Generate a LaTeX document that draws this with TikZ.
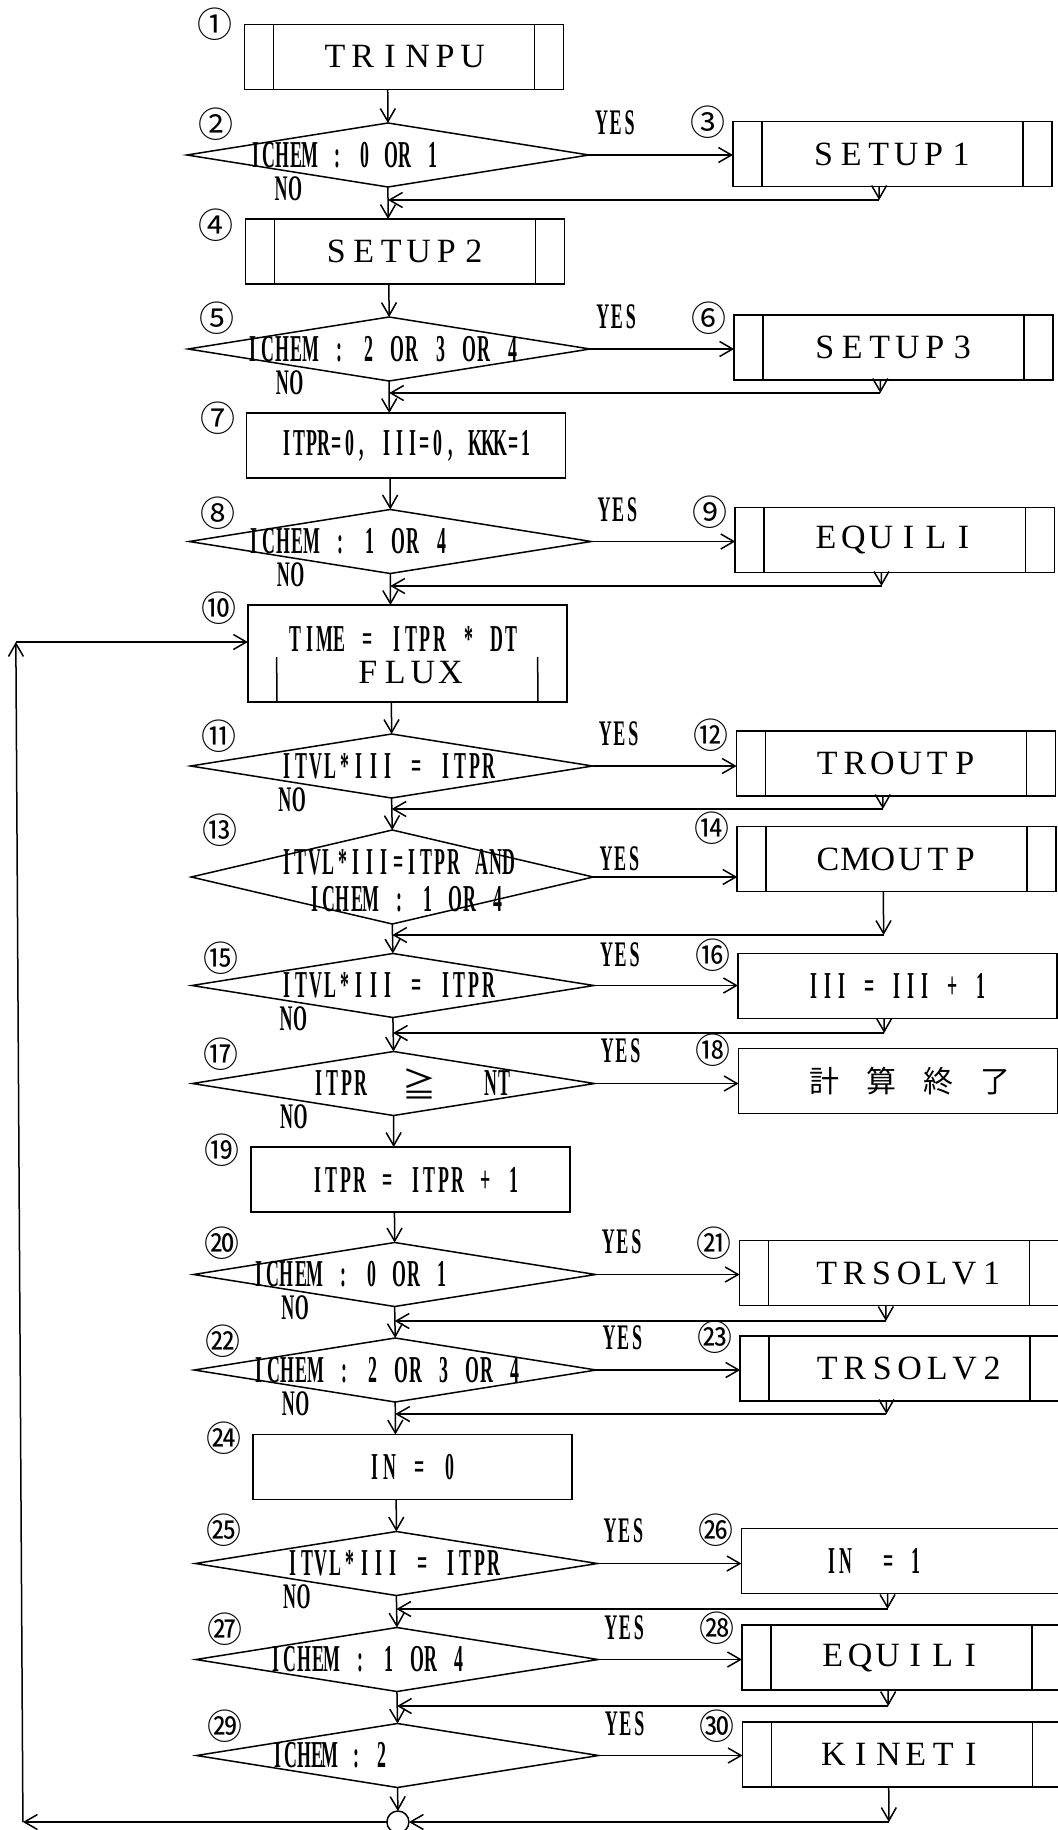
\documentclass[tikz,border=0pt]{standalone}
\usepackage{fontspec}
\usepackage{graphicx}
\setmainfont{Liberation Serif}
\newfontfamily\cjk{Noto Sans CJK JP}
\usetikzlibrary{arrows.meta,shapes.geometric}
\ExplSyntaxOn
\NewDocumentCommand\cells{mmm}
  { \str_map_inline:nn {#3} { \makebox[#1][c]{\scalebox{#2}[1]{##1}} } }
\ExplSyntaxOff
\newcommand\lab[1]{{\fontsize{34}{34}\selectfont\cells{27.5pt}{1}{#1}}}
\newcommand\ct[2][14pt]{{\fontsize{38}{38}\selectfont\bfseries\cells{#1}{0.47}{#2}}}
\newcommand\yn[1]{{\fontsize{36}{36}\selectfont\bfseries\cells{14pt}{0.5}{#1}}}
\begin{document}
\begin{tikzpicture}[x=1pt,y=-1pt,line width=1.5pt,
 arr/.style={-{Straight Barb[length=13pt,width=15pt]}},
 box/.style={draw,rectangle,minimum width=319pt,minimum height=65pt,inner sep=0pt,outer sep=0pt},
 pbox/.style={box,path picture={\draw[line width=1.5pt]
   ([xshift=29pt]path picture bounding box.north west) -- ([xshift=29pt]path picture bounding box.south west)
   ([xshift=-29pt]path picture bounding box.north east) -- ([xshift=-29pt]path picture bounding box.south east);}},
 dia/.style={draw,diamond,minimum width=402pt,minimum height=64pt,inner sep=0pt,outer sep=0pt},
 txt/.style={inner sep=0pt,outer sep=0pt},
 num/.style={inner sep=0pt,outer sep=0pt,font=\cjk\fontsize{35}{35}\selectfont}]
\useasboundingbox (0,0) rectangle (1057,1830);
\begin{scope}[xslant=-0.006]
% ---- row 1-3
\node[pbox] (b1) at (403.5,57) {\lab{TRINPU}};
\node[num] (n1) at (215,24) {①};
\node[dia] (d2) at (387,155) {};
\node[txt,anchor=west] (t2) at (248,155) {\ct[13.6pt]{ICHEM : 0 OR 1}};
\node[num] (n2) at (215,124) {②};
\node[txt] (y2) at (615,123) {\yn{YES}};
\node[txt] (o2) at (287,189) {\yn{NO}};
\node[pbox] (b3) at (891.5,154) {\lab{SETUP1}};
\node[num] (n3) at (707,122) {③};
\coordinate (m2) at (878,200);
% ---- row 4-6
\node[pbox] (b4) at (403.5,251.5) {\lab{SETUP2}};
\node[num] (n4) at (215,225) {④};
\node[dia] (d5) at (387,349) {};
\node[txt,anchor=west] (t5) at (244,349) {\ct[14.4pt]{ICHEM : 2 OR 3 OR 4}};
\node[num] (n5) at (215,318) {⑤};
\node[txt] (y5) at (615,317) {\yn{YES}};
\node[txt] (o5) at (287,383) {\yn{NO}};
\node[pbox] (b6) at (891.5,347.5) {\lab{SETUP3}};
\node[num] (n6) at (707,318) {⑥};
\coordinate (m5) at (878,393);
% ---- row 7-9
\node[box] (b7) at (403.5,445.5) {\ct[12.6pt]{ITPR=0, III=0, KKK=1}};
\node[num] (n7) at (215,418) {⑦};
\node[dia] (d8) at (387,541.5) {};
\node[txt,anchor=west] (t8) at (244,541.5) {\ct[14.4pt]{ICHEM : 1 OR 4}};
\node[num] (n8) at (215,513) {⑧};
\node[txt] (y8) at (615,510) {\yn{YES}};
\node[txt] (o8) at (287,575) {\yn{NO}};
\node[pbox] (b9) at (891.5,540) {\lab{EQUILI}};
\node[num] (n9) at (707,512) {⑨};
\coordinate (m8) at (878,586);
% ---- row 10
\node[box,minimum height=97pt] (b10) at (403.5,653.5) {};
\node[txt] (t10a) at (400,639) {\ct[14.4pt]{TIME = ITPR * DT}};
\node[txt] (t10b) at (405,673) {\lab{FLUX}};
\draw ([xshift=29pt]b10.south west) -- ([xshift=29pt,yshift=45pt]b10.south west);
\draw ([xshift=-29pt]b10.south east) -- ([xshift=-29pt,yshift=45pt]b10.south east);
\node[num] (n10) at (215,608) {⑩};
% ---- row 11-12
\node[dia] (d11) at (387,766) {};
\node[txt] (t11) at (383.5,766) {\ct[14.4pt]{ITVL*III = ITPR}};
\node[num] (n11) at (215,736) {⑪};
\node[txt] (y11) at (615,734) {\yn{YES}};
\node[txt] (o11) at (287,800) {\yn{NO}};
\node[pbox] (b12) at (891.5,763.5) {\lab{TROUTP}};
\node[num] (n12) at (707,735) {⑫};
\coordinate (m11) at (878,809);
% ---- row 13-14
\node[dia,minimum height=94pt] (d13) at (387,877) {};
\node[txt] (t13a) at (393,862) {\ct[13.9pt]{ITVL*III=ITPR AND}};
\node[txt] (t13b) at (401,899) {\ct[14.1pt]{ICHEM : 1 OR 4}};
\node[num] (n13) at (215,830) {⑬};
\node[txt] (y13) at (615,859) {\yn{YES}};
\node[pbox] (b14) at (891.5,859) {\lab{CMOUTP}};
\node[num] (n14) at (707,828) {⑭};
\coordinate (m13) at (878,935);
% ---- row 15-16
\node[dia] (d15) at (387,985.5) {};
\node[txt] (t15) at (382,985.5) {\ct[14.4pt]{ITVL*III = ITPR}};
\node[num] (n15) at (215,958) {⑮};
\node[txt] (y15) at (615,955) {\yn{YES}};
\node[txt] (o15) at (287,1019) {\yn{NO}};
\node[box] (b16) at (891.5,986) {\ct[13.9pt]{III = III + 1}};
\node[num] (n16) at (707,955) {⑯};
\coordinate (m15) at (878,1033);
% ---- row 17-18
\node[dia] (d17) at (387,1083.5) {};
\node[txt] (t17a) at (333,1083.5) {\ct{ITPR}};
\node[txt,font=\cjk\fontsize{34}{34}\selectfont] (t17b) at (413,1083.5) {≧};
\node[txt] (t17c) at (491,1083.5) {\ct{NT}};
\node[num] (n17) at (215,1054) {⑰};
\node[txt] (y17) at (615,1051) {\yn{YES}};
\node[txt] (o17) at (287,1117) {\yn{NO}};
\node[box] (b18) at (891.5,1081) {\hspace*{24pt}{\cjk\fontsize{30}{30}\selectfont\cells{57pt}{1}{計算終了}}};
\node[num] (n18) at (707,1050) {⑱};
% ---- row 19
\node[box] (b19) at (403.5,1179.5) {\hspace*{10pt}\ct{ITPR = ITPR + 1}};
\node[num] (n19) at (215,1150) {⑲};
% ---- row 20-21
\node[dia] (d20) at (387,1274.5) {};
\node[txt,anchor=west] (t20) at (244,1274.5) {\ct[14.1pt]{ICHEM : 0 OR 1}};
\node[num] (n20) at (215,1243) {⑳};
\node[txt] (y20) at (615,1242) {\yn{YES}};
\node[txt] (o20) at (287,1308) {\yn{NO}};
\node[pbox] (b21) at (891.5,1273) {\hspace*{20pt}\lab{TRSOLV1}};
\node[num] (n21) at (707,1243) {㉑};
\coordinate (m20) at (878,1321);
% ---- row 22-23
\node[dia] (d22) at (387,1370) {};
\node[txt,anchor=west] (t22) at (244,1370) {\ct[14.2pt]{ICHEM : 2 OR 3 OR 4}};
\node[num] (n22) at (215,1341) {㉒};
\node[txt] (y22) at (615,1338) {\yn{YES}};
\node[txt] (o22) at (287,1404) {\yn{NO}};
\node[pbox] (b23) at (891.5,1368.5) {\hspace*{20pt}\lab{TRSOLV2}};
\node[num] (n23) at (707,1337) {㉓};
\coordinate (m22) at (878,1414);
% ---- row 24
\node[box] (b24) at (403.5,1467) {\ct[15pt]{IN = 0}};
\node[num] (n24) at (215,1438) {㉔};
% ---- row 25-26
\node[dia] (d25) at (387,1563.5) {};
\node[txt] (t25) at (384,1563.5) {\ct[14.4pt]{ITVL*III = ITPR}};
\node[num] (n25) at (215,1530) {㉕};
\node[txt] (y25) at (615,1531) {\yn{YES}};
\node[txt] (o25) at (287,1597) {\yn{NO}};
\node[box] (b26) at (891.5,1561) {\ct{IN }\ct{ = 1}\hspace*{53pt}};
\node[num] (n26) at (707,1530) {㉖};
\coordinate (m25) at (878,1609);
% ---- row 27-28
\node[dia] (d27) at (387,1659.5) {};
\node[txt,anchor=west] (t27) at (259,1659.5) {\ct[14.1pt]{ICHEM : 1 OR 4}};
\node[num] (n27) at (215,1629) {㉗};
\node[txt] (y27) at (615,1628) {\yn{YES}};
\node[pbox] (b28) at (891.5,1657.5) {\lab{EQUILI}};
\node[num] (n28) at (707,1628) {㉘};
\coordinate (m27) at (878,1706);
% ---- row 29-30
\node[dia] (d29) at (387,1755.5) {};
\node[txt,anchor=west] (t29) at (261,1755.5) {\ct[13pt]{ICHEM : 2}};
\node[num] (n29) at (215,1726) {㉙};
\node[txt] (y29) at (615,1724) {\yn{YES}};
\node[pbox] (b30) at (891.5,1754.5) {\lab{KINETI}};
\node[num] (n30) at (707,1726) {㉚};
\node[draw,circle,minimum size=22pt,inner sep=0pt,outer sep=0pt] (jn) at (387,1822) {};
\coordinate (m29) at (878,1822);
\coordinate (lp1) at (12,1822);
\coordinate (lp2) at (12,642);
% ---- main column
\draw[arr] (b1.south -| d2.north) -- (d2.north);
\draw[arr] (d2.south) -- (d2.south |- b4.north);
\draw[arr] (b4.south -| d5.north) -- (d5.north);
\draw[arr] (d5.south) -- (d5.south |- b7.north);
\draw[arr] (b7.south -| d8.north) -- (d8.north);
\draw[arr] (d8.south) -- (d8.south |- b10.north);
\draw[arr] (b10.south -| d11.north) -- (d11.north);
\draw[arr] (d11.south) -- (d13.north);
\draw[arr] (d13.south) -- (d15.north);
\draw[arr] (d15.south) -- (d17.north);
\draw[arr] (d17.south) -- (d17.south |- b19.north);
\draw[arr] (b19.south -| d20.north) -- (d20.north);
\draw[arr] (d20.south) -- (d22.north);
\draw[arr] (d22.south) -- (d22.south |- b24.north);
\draw[arr] (b24.south -| d25.north) -- (d25.north);
\draw[arr] (d25.south) -- (d27.north);
\draw[arr] (d27.south) -- (d29.north);
\draw[arr] (d29.south) -- (jn.north);
% ---- yes branches
\foreach \d/\b in {d2/b3,d5/b6,d8/b9,d11/b12,d13/b14,d15/b16,d17/b18,d20/b21,d22/b23,d25/b26,d27/b28,d29/b30}
  \draw[arr] (\d.east) -- (\d.east -| \b.west);
% ---- returns
\foreach \b/\m/\d in {b3/m2/d2,b6/m5/d5,b9/m8/d8,b12/m11/d11,b14/m13/d13,b16/m15/d15,b21/m20/d20,b23/m22/d22,b26/m25/d25,b28/m27/d27}
  {\draw[arr] (\b.south -| \m) -- (\m);
   \draw[arr] (\m) -- (\d.south |- \m);}
% ---- loop
\draw[arr] (b30.south -| m29) -- (m29);
\draw[arr] (m29) -- (jn.east);
\draw[arr] (jn.west) -- (lp1);
\draw[arr] (lp1) -- (lp2);
\draw[arr] (lp2) -- (lp2 -| b10.west);
\end{scope}
\end{tikzpicture}
\end{document}
